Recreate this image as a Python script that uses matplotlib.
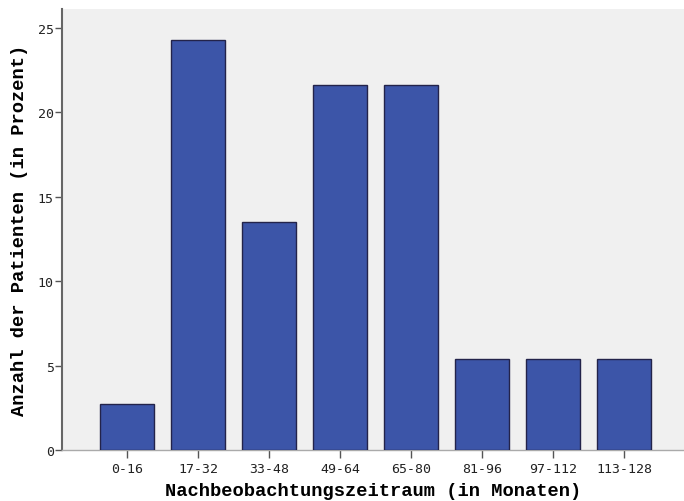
import matplotlib
matplotlib.use("Agg")
import matplotlib.pyplot as plt

categories = ["0-16", "17-32", "33-48", "49-64", "65-80", "81-96", "97-112", "113-128"]
values = [2.7, 24.3, 13.5, 21.6, 21.6, 5.4, 5.4, 5.4]
yticks = [0, 5, 10, 15, 20, 25]

fig = plt.figure(figsize=(6.84, 5.02), dpi=100)
ax = fig.add_axes([62/684, 51/502, 1 - 62/684, (451-10)/502])
ax.set_facecolor("#f0f0f0")
x = list(range(len(categories)))
ax.bar(x, values, width=0.76, color="#3c55a8", edgecolor="#23234a", linewidth=1.0, zorder=3)
ax.set_xlim(-0.92, 7.84)
ax.set_ylim(0, 26.13)
ax.set_xticks(x)
ax.set_xticklabels(categories, fontfamily="DejaVu Sans Mono", fontsize=9.5, color="#222222")
ax.set_yticks(yticks)
ax.set_yticklabels([str(t) for t in yticks], fontfamily="DejaVu Sans Mono", fontsize=9.5, color="#222222")
ax.tick_params(axis="x", length=6, width=1, color="#555555", pad=3)
ax.tick_params(axis="y", length=5, width=1, color="#555555", pad=1)
for s in ["top", "right"]:
    ax.spines[s].set_visible(False)
ax.spines["left"].set_color("#666666")
ax.spines["left"].set_linewidth(1.5)
ax.spines["bottom"].set_color("#aaaaaa")
ax.spines["bottom"].set_linewidth(1.0)
ax.set_xlabel("Nachbeobachtungszeitraum (in Monaten)", fontfamily="Liberation Mono",
              fontweight="bold", fontsize=13.5, labelpad=5)
ax.set_ylabel("Anzahl der Patienten (in Prozent)", fontfamily="Liberation Mono",
              fontweight="bold", fontsize=13.5, labelpad=7)
fig.savefig("out.png", dpi=100)
